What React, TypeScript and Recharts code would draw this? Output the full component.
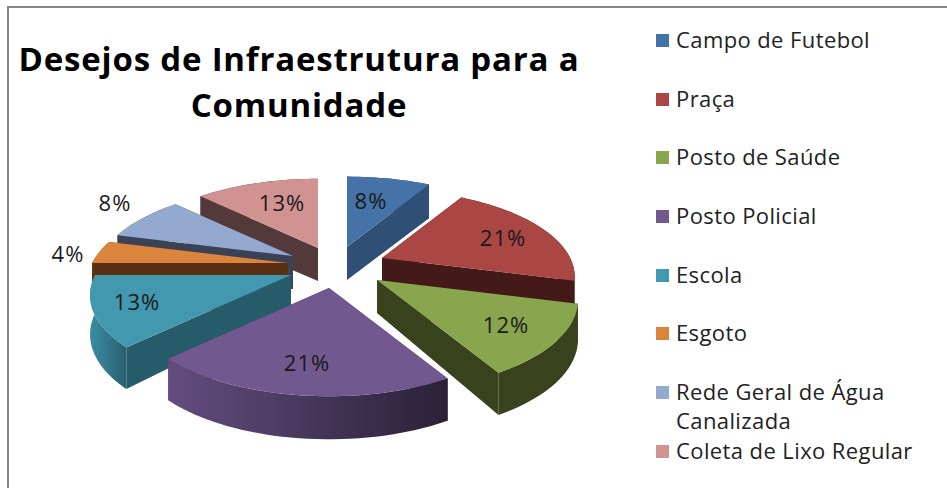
import React from "react";
import { PieChart, Pie, Legend } from "recharts";

const categories = [
  "Campo de Futebol",
  "Praça",
  "Posto de Saúde",
  "Posto Policial",
  "Escola",
  "Esgoto",
  "Rede Geral de Água Canalizada",
  "Coleta de Lixo Regular",
];
// 24 answers in total, the picture shows the rounded share of each
const answers = [2, 5, 3, 5, 3, 1, 2, 3];
const percentLabels = ["8%", "21%", "12%", "21%", "13%", "4%", "8%", "13%"];

const topColors = ["#4572a7", "#aa4643", "#89a54e", "#71588f", "#4198af", "#db843d", "#93a9cf", "#d19392"];
const cutColors = ["#2f4f77", "#441a18", "#38421c", "#4a3a60", "#265b6a", "#5a3015", "#3a4256", "#54393a"];
const arcFrom = ["#2f4f77", "#5a2321", "#38421c", "#634d7e", "#3c8ca3", "#6b3a17", "#3a4256", "#54393a"];
const arcTo = ["#2f4f77", "#441a18", "#38421c", "#2a2138", "#27606f", "#5a3015", "#3a4256", "#54393a"];

// exploded apex of each slice, on the picture
const apexX = [347, 382, 377, 329, 291, 288, 293, 318];
const apexY = [247, 258, 280, 288, 275, 263, 256, 248];
// some slices reach a bit further than the others
const reach = [1.02, 0.98, 1.02, 1, 1.02, 1.02, 1, 1];
// label centres relative to the apex
const labelDx = [24, 121, 129, -22, -154, -220, -178, -36];
const labelDy = [-47, -21, 44, 74, 26, -10, -54, -46];

const RADIUS = 192;
const SQUASH = 0.44;
const DEPTH = 0.22;

const rows = categories.map((name, i) => ({ name, value: answers[i], fill: topColors[i] }));
const reversedRows = [...rows].reverse();
const rightSide = categories.slice(0, 3);

// tilted disc with some perspective, angle in degrees as recharts gives it
const project = (i: number, deg: number, r: number) => {
  const a = (deg * Math.PI) / 180;
  const front = -Math.sin(a) * r;
  const s = 1 / (1 - (DEPTH * front) / RADIUS);
  return { x: apexX[i] + Math.cos(a) * r * s, y: apexY[i] + front * SQUASH * s };
};

const wallHeight = (deg: number) => 38 - 5 * Math.sin((deg * Math.PI) / 180);

const poly = (pts: { x: number; y: number }[]) => pts.map((p) => `${p.x},${p.y}`).join(" ");

const Slice3D = (props: any) => {
  const i = categories.indexOf(props.name);
  const from = Math.min(props.startAngle, props.endAngle);
  const to = Math.max(props.startAngle, props.endAngle);
  const r = props.outerRadius * reach[i];

  const arc: { x: number; y: number; deg: number }[] = [];
  for (let d = from; d < to; d += 2) arc.push({ ...project(i, d, r), deg: d });
  arc.push({ ...project(i, to, r), deg: to });

  const apex = { x: apexX[i], y: apexY[i] };
  const down = (p: { x: number; y: number }, deg: number) => ({ x: p.x, y: p.y + wallHeight(deg) });
  const first = arc[0];
  const last = arc[arc.length - 1];
  const faces = [
    [apex, first, down(first, first.deg), down(apex, 90)],
    [apex, last, down(last, last.deg), down(apex, 90)],
  ].sort((a, b) => a[1].y - b[1].y);

  const arcWall = [...arc, ...[...arc].reverse().map((p) => down(p, p.deg))];
  const gradId = `arc-wall-${i}`;
  const mid = (from + to) / 2;
  const arcEl = <polygon points={poly(arcWall)} fill={`url(#${gradId})`} />;
  const backArc = Math.sin((mid * Math.PI) / 180) > 0;

  return (
    <g>
      <defs>
        <linearGradient id={gradId} x1="0" y1="0" x2="1" y2="0">
          <stop offset="0%" stopColor={arcFrom[i]} />
          <stop offset="100%" stopColor={arcTo[i]} />
        </linearGradient>
      </defs>
      {backArc && arcEl}
      {faces.map((f, k) => (
        <polygon key={k} points={poly(f)} fill={cutColors[i]} />
      ))}
      {!backArc && arcEl}
      <polygon points={poly([apex, ...arc])} fill={topColors[i]} />
    </g>
  );
};

const RightSlice = (props: any) => (rightSide.includes(props.name) ? <Slice3D {...props} /> : <g />);
const LeftSlice = (props: any) => (rightSide.includes(props.name) ? <g /> : <Slice3D {...props} />);

const renderPercent = (props: any) => {
  const i = props.index;
  return (
    <text
      key={i}
      x={apexX[i] + labelDx[i]}
      y={apexY[i] + labelDy[i]}
      textAnchor="middle"
      dominantBaseline="central"
      fontFamily="'Open Sans', sans-serif"
      fontSize={22}
      letterSpacing={1}
      fill="#1a1a1a"
    >
      {percentLabels[i]}
    </text>
  );
};

const LegendList = () => (
  <div
    style={{
      fontFamily: "'Open Sans', sans-serif",
      fontSize: 22,
      letterSpacing: 0.4,
      lineHeight: "29.3px",
      color: "#222",
    }}
  >
    {rows.map((item) => (
      <div key={item.name} style={{ height: 58.7, position: "relative", paddingLeft: 20, width: 250 }}>
        <span
          style={{
            position: "absolute",
            left: 0,
            top: 9,
            width: 13,
            height: 13,
            background: item.fill,
          }}
        />
        {item.name}
      </div>
    ))}
  </div>
);

export default function App() {
  return (
    <div style={{ position: "absolute", left: 0, top: 0, width: 947, height: 488, overflow: "hidden", background: "#fff" }}>
      <div
        style={{
          position: "absolute",
          left: 7,
          top: 6,
          width: 940,
          height: 482,
          borderTop: "2px solid #868686",
          borderLeft: "2px solid #868686",
        }}
      />
      <div
        style={{
          position: "absolute",
          left: 0,
          top: 36,
          width: 598,
          textAlign: "center",
          fontFamily: "'Open Sans', sans-serif",
          fontWeight: 700,
          fontSize: 33,
          letterSpacing: 0.8,
          lineHeight: "46px",
          whiteSpace: "nowrap",
          color: "#000",
        }}
      >
        Desejos de Infraestrutura para a
        <br />
        Comunidade
      </div>
      <PieChart width={947} height={488} style={{ position: "absolute", left: 0, top: 0 }}>
        <Legend
          content={<LegendList />}
          layout="vertical"
          wrapperStyle={{ position: "absolute", left: 656, top: 25, width: 270, height: 460 }}
        />
        <Pie
          data={rows}
          dataKey="value"
          nameKey="name"
          cx={330}
          cy={260}
          outerRadius={RADIUS}
          startAngle={90}
          endAngle={-270}
          shape={RightSlice}
          stroke="none"
          isAnimationActive={false}
        />
        <Pie
          data={reversedRows}
          dataKey="value"
          nameKey="name"
          cx={330}
          cy={260}
          outerRadius={RADIUS}
          startAngle={90}
          endAngle={450}
          shape={LeftSlice}
          stroke="none"
          isAnimationActive={false}
        />
        <Pie
          data={rows}
          dataKey="value"
          nameKey="name"
          cx={330}
          cy={260}
          outerRadius={RADIUS}
          startAngle={90}
          endAngle={-270}
          shape={() => <g />}
          label={renderPercent}
          labelLine={false}
          isAnimationActive={false}
        />
      </PieChart>
    </div>
  );
}
